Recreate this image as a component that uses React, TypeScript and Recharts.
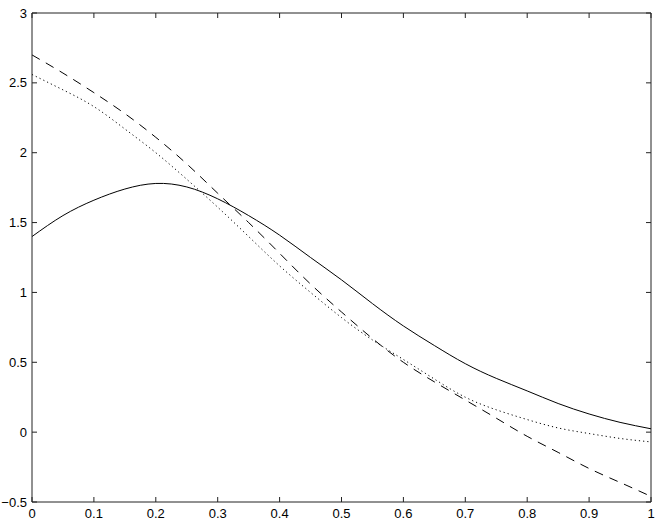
import React from 'react';
import { LineChart, Line, XAxis, YAxis, ReferenceLine } from 'recharts';

// abscisas y curvas
const xs = [0, 0.05, 0.1, 0.15, 0.2, 0.25, 0.3, 0.35, 0.4, 0.45, 0.5, 0.55, 0.6, 0.65, 0.7, 0.75, 0.8, 0.85, 0.9, 0.95, 1];
const solida = [1.4, 1.55, 1.66, 1.74, 1.78, 1.755, 1.67, 1.55, 1.41, 1.25, 1.09, 0.92, 0.76, 0.62, 0.49, 0.385, 0.295, 0.205, 0.13, 0.07, 0.024];
const discontinua = [2.7, 2.57, 2.43, 2.28, 2.11, 1.92, 1.71, 1.5, 1.28, 1.06, 0.86, 0.67, 0.5, 0.36, 0.23, 0.1, -0.03, -0.145, -0.26, -0.36, -0.46];
const punteada = [2.56, 2.45, 2.33, 2.17, 2.0, 1.81, 1.61, 1.4, 1.19, 1.0, 0.82, 0.66, 0.52, 0.38, 0.25, 0.16, 0.09, 0.03, -0.01, -0.045, -0.07];

const xTicks = [0, 0.1, 0.2, 0.3, 0.4, 0.5, 0.6, 0.7, 0.8, 0.9, 1];
const yTicks = [-0.5, 0, 0.5, 1, 1.5, 2, 2.5, 3];

const data = xs.map((x, i) => ({ x, a: solida[i], b: discontinua[i], c: punteada[i] }));

// bordes del área de trazado
const IZQ = 32;
const DER = 651;
const SUP = 13;
const INF = 502;
const MARCA = 5;

const fmt = (v: number) => (v < 0 ? '\u2212' + Math.abs(v) : String(v));
const fuente = 'Liberation Sans, Arial, sans-serif';
const ejeColor = '#222';

// marca hacia dentro abajo y arriba, con su etiqueta
const TickX = (props: any) => {
  const { x, payload } = props;
  const c = payload.coordinate ?? x;
  return (
    <g>
      <line x1={c} x2={c} y1={INF} y2={INF - MARCA} stroke={ejeColor} />
      <line x1={c} x2={c} y1={SUP} y2={SUP + MARCA} stroke={ejeColor} />
      <text x={x} y={INF + 7} dy="0.71em" textAnchor="middle" fontSize={13} fontFamily={fuente} fill="#000">
        {fmt(payload.value)}
      </text>
    </g>
  );
};

// marca hacia dentro a izquierda y derecha, con su etiqueta
const TickY = (props: any) => {
  const { y, payload } = props;
  const c = payload.coordinate ?? y;
  return (
    <g>
      <line x1={IZQ} x2={IZQ + MARCA} y1={c} y2={c} stroke={ejeColor} />
      <line x1={DER} x2={DER - MARCA} y1={c} y2={c} stroke={ejeColor} />
      <text x={IZQ - 5} y={y} dy="0.355em" textAnchor="end" fontSize={13} fontFamily={fuente} fill="#000">
        {fmt(payload.value)}
      </text>
    </g>
  );
};

export default function App() {
  return (
    <div style={{ position: 'absolute', left: 0, top: 0, background: '#fff' }}>
      <LineChart width={661} height={520} data={data} margin={{ top: SUP, right: 661 - DER, left: 0, bottom: 0 }}>
        <XAxis
          dataKey="x"
          type="number"
          domain={[0, 1]}
          ticks={xTicks}
          height={520 - INF}
          tickLine={false}
          tick={<TickX />}
          stroke={ejeColor}
          interval={0}
        />
        <YAxis
          type="number"
          domain={[-0.5, 3]}
          ticks={yTicks}
          width={IZQ}
          tickLine={false}
          tick={<TickY />}
          stroke={ejeColor}
          interval={0}
        />
        <ReferenceLine y={3} stroke={ejeColor} />
        <ReferenceLine x={1} stroke={ejeColor} />
        <Line type="natural" dataKey="a" stroke="#000" strokeWidth={1} dot={false} isAnimationActive={false} />
        <Line type="natural" dataKey="b" stroke="#000" strokeWidth={1} strokeDasharray="9 7" dot={false} isAnimationActive={false} />
        <Line type="natural" dataKey="c" stroke="#000" strokeWidth={1} strokeDasharray="1.2 3" dot={false} isAnimationActive={false} />
      </LineChart>
    </div>
  );
}
